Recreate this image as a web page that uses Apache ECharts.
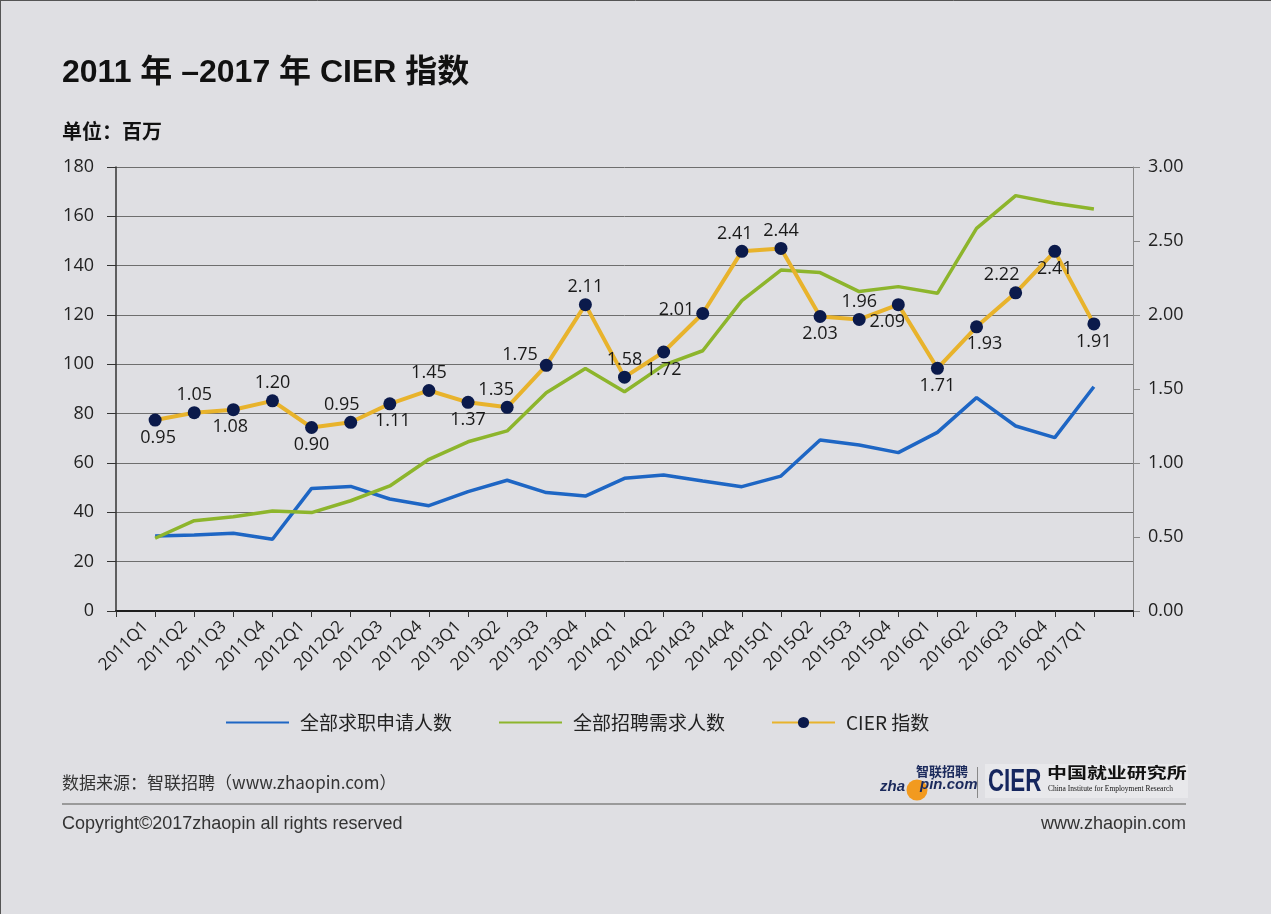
<!DOCTYPE html>
<html>
<head>
<meta charset="utf-8">
<script src="https://cdn.jsdelivr.net/npm/echarts@6/dist/echarts.min.js"></script>
<style>
html,body{margin:0;padding:0;background:#dfdfe3;}
#chart{width:1271px;height:914px;}
</style>
</head>
<body>
<div id="chart"></div>
<script>
// ---- data ----
const categories = ['2011Q1','2011Q2','2011Q3','2011Q4','2012Q1','2012Q2','2012Q3','2012Q4','2013Q1','2013Q2','2013Q3','2013Q4','2014Q1','2014Q2','2014Q3','2014Q4','2015Q1','2015Q2','2015Q3','2015Q4','2016Q1','2016Q2','2016Q3','2016Q4','2017Q1'];
const applicants = [30.4,30.8,31.5,29.1,49.7,50.5,45.4,42.7,48.4,53.0,48.0,46.6,53.8,55.1,52.7,50.4,54.7,69.3,67.3,64.2,72.4,86.5,75.0,70.3,90.9];
const demand = [29.5,36.6,38.2,40.5,39.9,44.7,50.7,61.5,68.6,73.0,88.5,98.3,88.9,99.7,105.5,125.8,138.2,137.2,129.5,131.5,128.8,155.1,168.4,165.3,163.0];
const cierPlotted = [1.29,1.34,1.36,1.42,1.24,1.275,1.40,1.49,1.41,1.376,1.66,2.07,1.58,1.75,2.01,2.43,2.45,1.99,1.97,2.07,1.64,1.92,2.15,2.43,1.94];
const cierLabels = ['0.95','1.05','1.08','1.20','0.90','0.95','1.11','1.45','1.37','1.35','1.75','2.11','1.58','1.72','2.01','2.41','2.44','2.03','1.96','2.09','1.71','1.93','2.22','2.41','1.91'];
const leftTicks = {min:0, max:180, step:20};
const rightTicks = {min:0, max:3, step:0.5};
const seriesNames = ['全部求职申请人数','全部招聘需求人数','CIER 指数'];

// ---- label placement (style only) ----
const labelSide = ['bottom','top','bottom','top','bottom','top','bottom','top','bottom','top','left','top','top','bottom','left','top','top','bottom','top','bottom','bottom','bottom','top','bottom','bottom'];
const labelShift = {5:[-9,0],9:[-11,0],10:[0,-10],14:[0,-4],15:[-7,0],19:[-11,0],21:[8,0],22:[-14,0],0:[3,0],2:[-3,0],6:[3,0]};

const chart = echarts.init(document.getElementById('chart'));
const numFont = '"Open Sans", "Noto Sans", sans-serif';
const cjkFont = '"Noto Sans CJK SC", "Open Sans", sans-serif';

const cierData = cierPlotted.map((v,i)=>{
  const s = labelShift[i] || [0,0];
  return {value:[i+1,v], label:{position:labelSide[i], offset:s}};
});

const hidden = {color:'rgba(0,0,0,0)'};

const option = {
  backgroundColor:'#dfdfe3',
  animation:false,
  grid:[
    {left:116,right:138,top:167,bottom:303,containLabel:false},
    {left:126,right:128,top:167,bottom:303,containLabel:false}
  ],
  legend:{
    data:[
      {name:seriesNames[0], itemStyle:hidden},
      {name:seriesNames[1], itemStyle:hidden},
      {name:seriesNames[2]}
    ],
    left:220, top:708,
    itemWidth:63, itemHeight:14, itemGap:46,
    textStyle:{fontSize:19,color:'#222',fontFamily:cjkFont,padding:[0,0,0,6]}
  },
  xAxis:[{
    type:'category', gridIndex:0,
    data:categories.concat(['']),
    boundaryGap:true,
    axisLine:{show:true,lineStyle:{color:'#1e1e1e',width:2}},
    axisTick:{show:true,interval:0,length:6,lineStyle:{color:'#333',width:1}},
    axisLabel:{show:false},
    splitLine:{show:false}
  },{
    type:'value', gridIndex:0, min:0, max:categories.length+1, show:false
  },{
    type:'category', gridIndex:1,
    data:categories.concat(['']),
    boundaryGap:true,
    axisLine:{show:false}, axisTick:{show:false}, splitLine:{show:false},
    axisLabel:{interval:0,rotate:45,fontSize:17,color:'#222',fontFamily:numFont,margin:13}
  }],
  yAxis:[{
    type:'value', gridIndex:0, min:leftTicks.min, max:leftTicks.max, interval:leftTicks.step,
    axisLine:{show:true,lineStyle:{color:'#333',width:1.5}},
    axisTick:{show:true,length:9,lineStyle:{color:'#333'}},
    axisLabel:{fontSize:18,color:'#222',fontFamily:numFont,margin:22},
    splitLine:{show:true,lineStyle:{color:'#6e6e6e',width:1}}
  },{
    type:'value', gridIndex:0, position:'right', min:rightTicks.min, max:rightTicks.max, interval:rightTicks.step,
    axisLine:{show:true,lineStyle:{color:'#8a8a8a',width:1}},
    axisTick:{show:true,length:7,lineStyle:{color:'#8a8a8a'}},
    axisLabel:{fontSize:18,color:'#222',fontFamily:numFont,margin:15,formatter:v=>v.toFixed(2)},
    splitLine:{show:false}
  },{
    type:'value', gridIndex:1, show:false
  }],
  series:[{
    name:seriesNames[0], type:'line', xAxisIndex:1, yAxisIndex:0,
    data:applicants.map((v,i)=>[i+1,v]),
    symbol:'none', lineStyle:{color:'#1e66c4',width:3.5}, itemStyle:{color:'#1e66c4'}, z:2
  },{
    name:seriesNames[1], type:'line', xAxisIndex:1, yAxisIndex:0,
    data:demand.map((v,i)=>[i+1,v]),
    symbol:'none', lineStyle:{color:'#8db52c',width:3.5}, itemStyle:{color:'#8db52c'}, z:3
  },{
    name:seriesNames[2], type:'line', xAxisIndex:1, yAxisIndex:1,
    data:cierData,
    symbol:'circle', symbolSize:13,
    lineStyle:{color:'#e8b32c',width:4},
    itemStyle:{color:'#0b1a4b',borderWidth:0},
    label:{show:true,fontSize:18,color:'#1a1a1a',fontFamily:numFont,distance:2,
      formatter:p=>cierLabels[p.dataIndex]},
    z:4
  }],
  graphic:[
    {type:'line',shape:{x1:0.5,y1:0,x2:0.5,y2:914},style:{stroke:'#555',lineWidth:1}},
    {type:'line',shape:{x1:0,y1:0.5,x2:1271,y2:0.5},style:{stroke:'#555',lineWidth:1}},
    {type:'text',x:62,y:73,style:{text:'2011 年 –2017 年 CIER 指数',fill:'#111',
      font:'bold 32px "Liberation Sans", "Noto Sans CJK SC", sans-serif',textVerticalAlign:'middle'}},
    {type:'text',x:62,y:131,style:{text:'单位：百万',fill:'#111',
      font:'bold 20px "Noto Sans CJK SC", sans-serif',textVerticalAlign:'middle'}},
    {type:'text',x:62,y:783,style:{text:'数据来源：智联招聘（www.zhaopin.com）',fill:'#333',
      font:'17px "Noto Sans CJK SC", "Liberation Sans", sans-serif',textVerticalAlign:'middle'}},
    {type:'line',shape:{x1:62,y1:804,x2:1186,y2:804},style:{stroke:'#9a9a9a',lineWidth:2}},
    {type:'text',x:62,y:824,style:{text:'Copyright©2017zhaopin all rights reserved',fill:'#333',
      font:'18px "Liberation Sans", sans-serif',textVerticalAlign:'middle'}},
    {type:'text',x:1186,y:824,style:{text:'www.zhaopin.com',fill:'#333',
      font:'18px "Liberation Sans", sans-serif',textVerticalAlign:'middle',textAlign:'right'}},
    // zhaopin logo
    {type:'circle',shape:{cx:917,cy:790,r:10.5},style:{fill:'#f29a1f'}},
    {type:'text',x:880,y:787,style:{text:'zha',fill:'#1b2a5c',
      font:'italic bold 15px "Liberation Sans", sans-serif',textVerticalAlign:'middle'}},
    {type:'text',x:920,y:785,style:{text:'pin.com',fill:'#1b2a5c',
      font:'italic bold 15px "Liberation Sans", sans-serif',textVerticalAlign:'middle'}},
    {type:'text',x:916,y:771,style:{text:'智联招聘',fill:'#1b2a5c',
      font:'bold 13px "Noto Sans CJK SC", sans-serif',textVerticalAlign:'middle'}},
    {type:'line',shape:{x1:977.5,y1:767,x2:977.5,y2:798},style:{stroke:'#888',lineWidth:1}},
    // CIER logo
    {type:'rect',shape:{x:985,y:764,width:203,height:34},style:{fill:'#e8e8eb'}},
    {type:'text',x:988,y:782,scaleX:0.72,style:{text:'CIER',fill:'#15265e',
      font:'bold 31px "Liberation Sans", sans-serif',textVerticalAlign:'middle'}},
    {type:'text',x:1047,y:772,scaleX:1.33,style:{text:'中国就业研究所',fill:'#111',
      font:'bold 15px "Noto Sans CJK SC", sans-serif',textVerticalAlign:'middle'}},
    {type:'text',x:1048,y:789,style:{text:'China Institute for Employment Research',fill:'#111',
      font:'7.5px "Liberation Serif", serif',textVerticalAlign:'middle'}}
  ]
};
chart.setOption(option);
</script>
</body>
</html>
